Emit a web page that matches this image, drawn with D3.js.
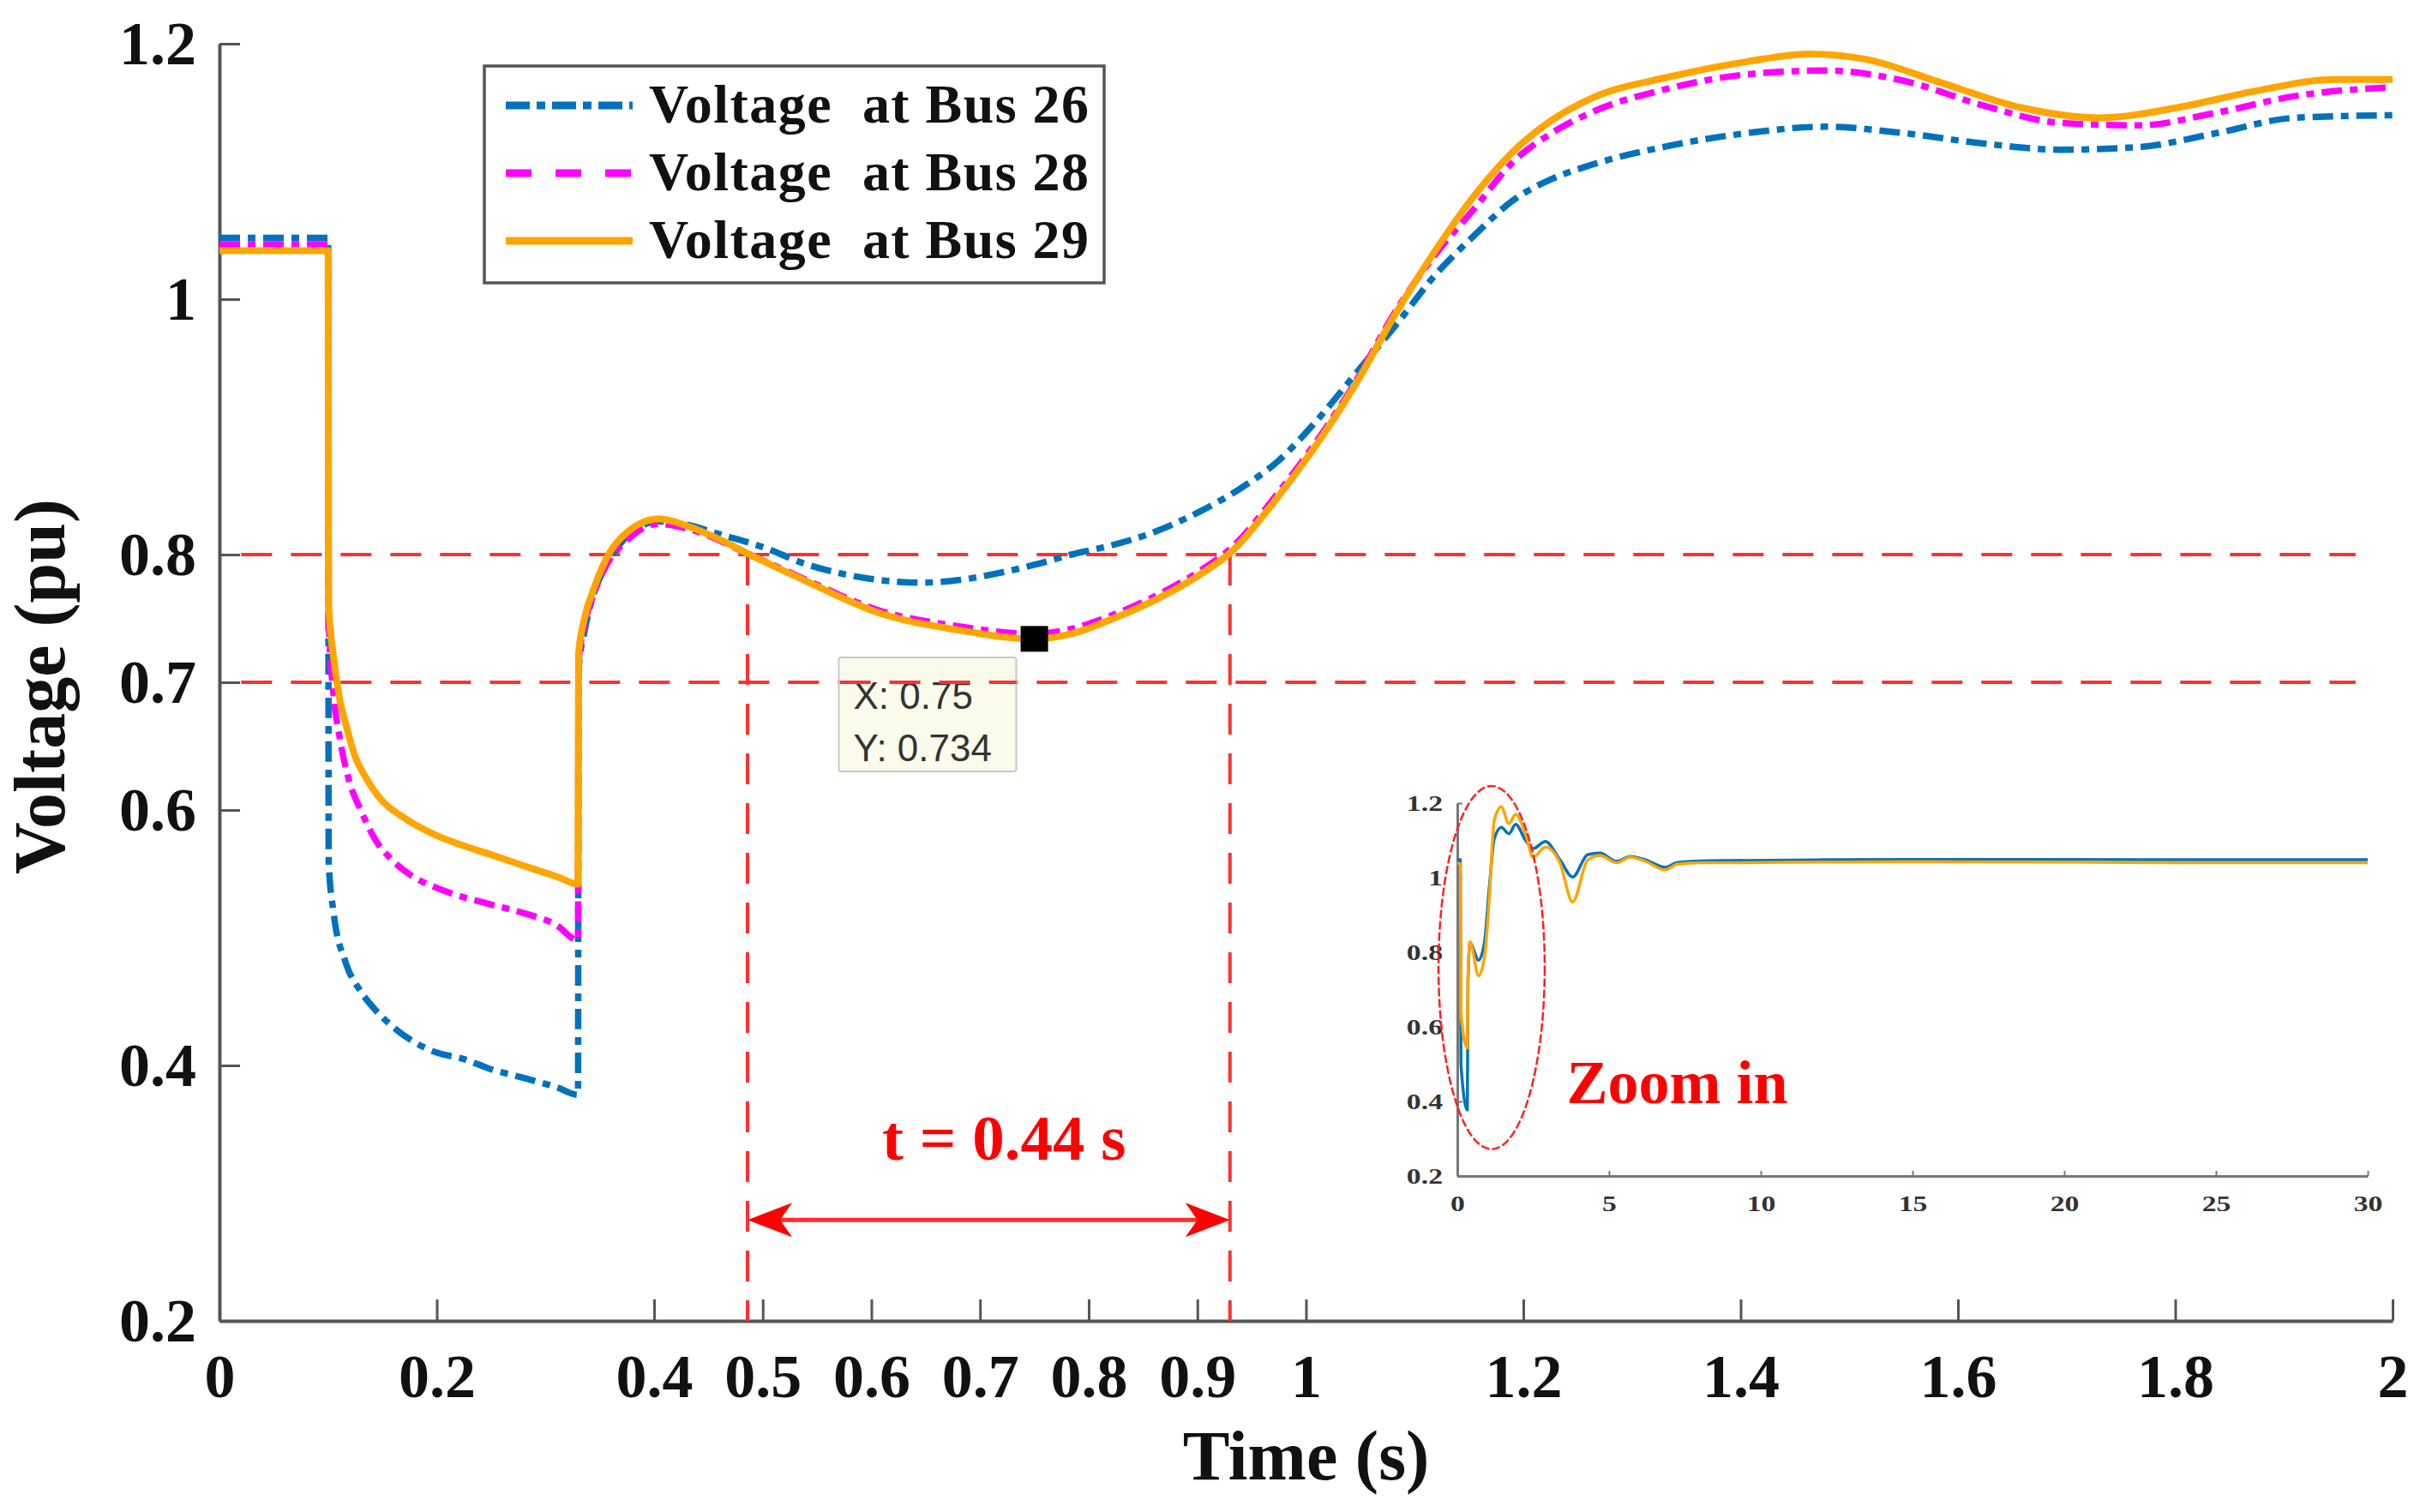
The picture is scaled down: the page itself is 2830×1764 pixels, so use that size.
<!DOCTYPE html>
<html>
<head>
<meta charset="utf-8">
<script src="https://cdn.jsdelivr.net/npm/d3@7"></script>
<style>
  body { margin: 0; background: #fff; }
  svg { display: block; }
  text { font-family: "Liberation Serif", "Times New Roman", serif; font-weight: bold; }
</style>
</head>
<body>
<script>
// main plot series (time in s, voltage in pu)
const bus26T = [0, 0.1, 0.1005, 0.105, 0.116, 0.13, 0.144, 0.16, 0.176, 0.2, 0.225, 0.25, 0.281, 0.31, 0.33, 0.3305, 0.336, 0.344, 0.355, 0.376, 0.404, 0.432, 0.46, 0.503, 0.538, 0.573, 0.62, 0.644, 0.68, 0.714, 0.75, 0.784, 0.82, 0.855, 0.903, 0.94, 0.974, 1.01, 1.046, 1.083, 1.119, 1.155, 1.19, 1.226, 1.262, 1.334, 1.406, 1.478, 1.55, 1.622, 1.694, 1.766, 1.838, 1.91, 2.0];
const bus26V = [1.048, 1.048, 0.56, 0.52, 0.481, 0.458, 0.443, 0.43, 0.42, 0.41, 0.405, 0.397, 0.39, 0.383, 0.377, 0.71, 0.74, 0.768, 0.79, 0.815, 0.826, 0.823, 0.816, 0.805, 0.793, 0.785, 0.779, 0.778, 0.78, 0.785, 0.792, 0.8, 0.807, 0.816, 0.834, 0.852, 0.873, 0.905, 0.942, 0.98, 1.019, 1.05, 1.077, 1.094, 1.105, 1.12, 1.13, 1.135, 1.13, 1.122, 1.117, 1.119, 1.13, 1.142, 1.144];

const bus28T = [0, 0.1, 0.1005, 0.105, 0.11, 0.12, 0.13, 0.144, 0.16, 0.176, 0.2, 0.216, 0.25, 0.281, 0.31, 0.33, 0.3305, 0.336, 0.344, 0.355, 0.376, 0.404, 0.432, 0.488, 0.538, 0.608, 0.679, 0.75, 0.78, 0.82, 0.86, 0.9, 0.931, 0.974, 1.046, 1.082, 1.119, 1.154, 1.19, 1.226, 1.262, 1.334, 1.406, 1.478, 1.55, 1.622, 1.694, 1.766, 1.838, 1.91, 2.0];
const bus28V = [1.043, 1.043, 0.75, 0.69, 0.66, 0.621, 0.6, 0.576, 0.56, 0.549, 0.539, 0.534, 0.526, 0.519, 0.51, 0.498, 0.715, 0.745, 0.768, 0.79, 0.812, 0.824, 0.82, 0.8, 0.781, 0.756, 0.744, 0.738, 0.741, 0.752, 0.767, 0.786, 0.805, 0.848, 0.936, 0.99, 1.035, 1.07, 1.107, 1.13, 1.146, 1.165, 1.176, 1.179, 1.171, 1.152, 1.138, 1.136, 1.146, 1.159, 1.166];

const bus29T = [0, 0.1, 0.1005, 0.105, 0.11, 0.117, 0.124, 0.135, 0.15, 0.168, 0.2, 0.225, 0.25, 0.281, 0.31, 0.33, 0.3305, 0.336, 0.344, 0.355, 0.376, 0.404, 0.432, 0.46, 0.488, 0.538, 0.608, 0.679, 0.75, 0.784, 0.82, 0.86, 0.9, 0.931, 0.974, 1.046, 1.082, 1.119, 1.154, 1.19, 1.226, 1.262, 1.334, 1.406, 1.463, 1.514, 1.586, 1.658, 1.73, 1.802, 1.874, 1.946, 2.0];
const bus29V = [1.038, 1.038, 0.76, 0.72, 0.69, 0.665, 0.644, 0.625, 0.607, 0.595, 0.58, 0.572, 0.565, 0.556, 0.548, 0.542, 0.722, 0.75, 0.772, 0.795, 0.818, 0.828, 0.822, 0.812, 0.8, 0.78, 0.754, 0.741, 0.734, 0.738, 0.749, 0.764, 0.783, 0.802, 0.845, 0.934, 0.988, 1.038, 1.08, 1.115, 1.14, 1.157, 1.174, 1.186, 1.192, 1.188, 1.169, 1.15, 1.142, 1.15, 1.163, 1.172, 1.172];

// inset: whole 30 s run
const insetT = [0, 0.1, 0.12, 0.33, 0.35, 0.42, 0.7, 0.9, 1.05, 1.22, 1.45, 1.7, 1.92, 2.25, 2.5, 2.9, 3.38, 3.8, 4.3, 4.7, 5.25, 5.7, 6.2, 6.85, 7.25, 8, 9, 12, 15, 20, 25, 30];
const insetV26 = [1.048, 1.048, 0.5, 0.377, 0.72, 0.825, 0.779, 0.83, 0.97, 1.105, 1.135, 1.118, 1.143, 1.1, 1.078, 1.097, 1.048, 1.002, 1.062, 1.066, 1.044, 1.057, 1.048, 1.028, 1.041, 1.045, 1.046, 1.048, 1.049, 1.049, 1.048, 1.048];
const insetV29 = [1.038, 1.038, 0.64, 0.543, 0.73, 0.828, 0.737, 0.79, 0.94, 1.155, 1.19, 1.145, 1.17, 1.117, 1.055, 1.082, 1.04, 0.935, 1.048, 1.06, 1.04, 1.055, 1.044, 1.021, 1.036, 1.04, 1.04, 1.042, 1.043, 1.042, 1.04, 1.04];

const seriesNames = ["Voltage  at Bus 26", "Voltage  at Bus 28", "Voltage  at Bus 29"];
const xTicks = [0, 0.2, 0.4, 0.5, 0.6, 0.7, 0.8, 0.9, 1, 1.2, 1.4, 1.6, 1.8, 2];
const yTicks = [0.2, 0.4, 0.6, 0.7, 0.8, 1, 1.2];
const insetXTicks = [0, 5, 10, 15, 20, 25, 30];
const insetYTicks = [0.2, 0.4, 0.6, 0.8, 1, 1.2];

// annotations
const limitLevels = [0.8, 0.7];
const limitSpan = [0.02, 1.966];
const crossTimes = [0.486, 0.93];
const arrowLevel = 0.279;
const tip = { x: 0.75, y: 0.734 };

const W = 2830, H = 1764;
const margin = { top: 51, right: 39, bottom: 223, left: 256 };
const width = W - margin.left - margin.right;
const height = H - margin.top - margin.bottom;

const colors = ["#0072BD", "#FF00FF", "#FFA500"];

const svg = d3.select("body").append("svg")
  .attr("width", W)
  .attr("height", H);

const x = d3.scaleLinear().domain([0, 2]).range([margin.left, margin.left + width]);
const y = d3.scaleLinear().domain([0.2, 1.2]).range([margin.top + height, margin.top]);

// axes
const gx = svg.append("g")
  .attr("transform", `translate(0,${y(0.2)})`)
  .call(d3.axisBottom(x).tickValues(xTicks).tickSizeInner(-25).tickSizeOuter(0)
    .tickPadding(38).tickFormat(d3.format("~g")));
const gy = svg.append("g")
  .attr("transform", `translate(${x(0)},0)`)
  .call(d3.axisLeft(y).tickValues(yTicks).tickSizeInner(-24).tickSizeOuter(0)
    .tickPadding(27).tickFormat(d3.format("~g")));

[gx, gy].forEach(g => {
  g.select(".domain").attr("stroke", "#555").attr("stroke-width", 4);
  g.selectAll(".tick line").attr("stroke", "#555").attr("stroke-width", 3);
  g.selectAll(".tick text")
    .attr("fill", "#111")
    .style("font-size", "72px")
    .style("font-family", "'Liberation Serif', 'Times New Roman', serif")
    .style("font-weight", "bold");
});

svg.append("text")
  .attr("x", x(1))
  .attr("y", 1726)
  .attr("text-anchor", "middle")
  .style("font-size", "82px")
  .attr("fill", "#111")
  .text("Time (s)");

svg.append("text")
  .attr("transform", `translate(75,${y(0.7) + 5}) rotate(-90)`)
  .attr("text-anchor", "middle")
  .style("font-size", "84px")
  .attr("fill", "#111")
  .text("Voltage (pu)");

// red limit lines
const red = "#ff3030";
const dash = "36,22";
limitLevels.forEach(v => {
  svg.append("line")
    .attr("x1", x(limitSpan[0])).attr("x2", x(limitSpan[1]))
    .attr("y1", y(v)).attr("y2", y(v))
    .attr("stroke", red).attr("stroke-width", 4).attr("stroke-dasharray", dash);
});
crossTimes.forEach(t => {
  svg.append("line")
    .attr("x1", x(t)).attr("x2", x(t))
    .attr("y1", y(limitLevels[0])).attr("y2", y(0.2))
    .attr("stroke", red).attr("stroke-width", 4).attr("stroke-dasharray", dash);
});

// curves
const line = d3.line()
  .x(d => x(d[0]))
  .y(d => y(d[1]))
  .curve(d3.curveMonotoneX);

const series = [
  { t: bus26T, v: bus26V, dash: "24,9,9,9", w: 7.5 },
  { t: bus28T, v: bus28V, dash: "24,9,9,9", w: 7.5 },
  { t: bus29T, v: bus29V, dash: null, w: 8 }
];

series.forEach((s, i) => {
  svg.append("path")
    .datum(s.t.map((t, k) => [t, s.v[k]]))
    .attr("d", line)
    .attr("fill", "none")
    .attr("stroke", colors[i])
    .attr("stroke-width", s.w)
    .attr("stroke-dasharray", s.dash)
    .attr("stroke-linejoin", "round");
});

// arrow t = 0.44 s
const ax1 = x(crossTimes[0]), ax2 = x(crossTimes[1]), ay = y(arrowLevel);
svg.append("line")
  .attr("x1", ax1 + 30).attr("x2", ax2 - 30)
  .attr("y1", ay).attr("y2", ay)
  .attr("stroke", "#ff2a2a").attr("stroke-width", 5);
function head(tx, dir) {
  const L = 52, N = 38, hw = 20;
  return `M${tx},${ay} L${tx + dir * L},${ay - hw} L${tx + dir * N},${ay} L${tx + dir * L},${ay + hw} Z`;
}
svg.append("path").attr("d", head(ax1, 1)).attr("fill", "#ff0000");
svg.append("path").attr("d", head(ax2, -1)).attr("fill", "#ff0000");

svg.append("text")
  .attr("x", x(0.722))
  .attr("y", y(0.326))
  .attr("text-anchor", "middle")
  .attr("fill", "#ff0000")
  .style("font-size", "75px")
  .attr("xml:space", "preserve")
  .text("t = 0.44 s");

// data tip
const tipBox = svg.append("g").attr("transform", `translate(${x(0.57)},${y(0.7195)})`);
tipBox.append("rect")
  .attr("width", 207).attr("height", 133).attr("rx", 3)
  .attr("fill", "#fbfbec").attr("stroke", "#c8c8c8").attr("stroke-width", 2);
// the 0.7 dashed line shows through the tip box in the picture
svg.append("line")
  .attr("x1", x(0.57)).attr("x2", x(0.57) + 207)
  .attr("y1", y(0.7)).attr("y2", y(0.7))
  .attr("stroke", red).attr("stroke-width", 4).attr("stroke-dasharray", dash)
  .attr("stroke-dashoffset", -((x(0.57) - x(limitSpan[0])) % 58));
tipBox.selectAll("text.tip")
  .data([`X: ${tip.x}`, `Y: ${tip.y}`])
  .enter().append("text")
  .attr("class", "tip")
  .attr("x", 17)
  .attr("y", (d, i) => 60 + i * 61)
  .attr("fill", "#333")
  .style("font-family", "'Liberation Sans', Arial, sans-serif")
  .style("font-weight", "normal")
  .style("font-size", "44px")
  .text(d => d);
svg.append("rect")
  .attr("x", x(tip.x) - 16).attr("y", y(tip.y) - 15)
  .attr("width", 32).attr("height", 30)
  .attr("fill", "#000");

// legend
const lg = svg.append("g").attr("transform", "translate(565,77)");
lg.append("rect")
  .attr("width", 723).attr("height", 253)
  .attr("fill", "#fff").attr("stroke", "#555").attr("stroke-width", 3.5);
const legendDash = ["28,8,10,8", "30,28", null];
seriesNames.forEach((name, i) => {
  const ly = 46 + i * 79;
  lg.append("line")
    .attr("x1", 25).attr("x2", 173)
    .attr("y1", ly).attr("y2", ly)
    .attr("stroke", colors[i]).attr("stroke-width", 9)
    .attr("stroke-dasharray", legendDash[i]);
  lg.append("text")
    .attr("x", 192).attr("y", ly + 20)
    .attr("fill", "#111")
    .style("font-size", "64px")
    .attr("xml:space", "preserve")
    .attr("textLength", 513)
    .attr("lengthAdjust", "spacing")
    .text(name);
});

// inset
const xi = d3.scaleLinear().domain([0, 30]).range([1700, 2762]);
const yi = d3.scaleLinear().domain([0.2, 1.2]).range([1372, 937]);

const gix = svg.append("g")
  .attr("transform", `translate(0,${yi(0.2)})`)
  .call(d3.axisBottom(xi).tickValues(insetXTicks).tickSizeInner(-6).tickSizeOuter(0).tickPadding(23));
const giy = svg.append("g")
  .attr("transform", `translate(${xi(0)},0)`)
  .call(d3.axisLeft(yi).tickValues(insetYTicks).tickSizeInner(-6).tickSizeOuter(0)
    .tickPadding(17).tickFormat(d3.format("~g")));
[gix, giy].forEach(g => {
  g.select(".domain").attr("stroke", "#777").attr("stroke-width", 3);
  g.selectAll(".tick line").attr("stroke", "#777").attr("stroke-width", 2);
  g.selectAll(".tick text")
    .attr("fill", "#333")
    .style("font-size", "25px")
    .style("font-family", "'Liberation Serif', 'Times New Roman', serif")
    .style("font-weight", "bold");
});
gix.selectAll(".tick text").attr("y", null).attr("transform", "translate(0,23) scale(1.35,1)");
giy.selectAll(".tick text").attr("x", null).attr("transform", "translate(-17,0) scale(1.35,1)");

const lineIn = d3.line()
  .x(d => xi(d[0]))
  .y(d => yi(d[1]))
  .curve(d3.curveMonotoneX);
[[insetV26, colors[0]], [insetV29, colors[2]]].forEach(([vals, c]) => {
  svg.append("path")
    .datum(insetT.map((t, k) => [t, vals[k]]))
    .attr("d", lineIn)
    .attr("fill", "none")
    .attr("stroke", c)
    .attr("stroke-width", 3.5)
    .attr("stroke-linejoin", "round");
});

svg.append("ellipse")
  .attr("cx", xi(1.13)).attr("cy", yi(0.759))
  .attr("rx", xi(1.75) - xi(0)).attr("ry", yi(0.2) - yi(0.687))
  .attr("fill", "none")
  .attr("stroke", "#ff2020").attr("stroke-width", 2.5)
  .attr("stroke-dasharray", "10,3");

svg.append("text")
  .attr("x", xi(3.6)).attr("y", yi(0.395))
  .attr("fill", "#ff0000")
  .style("font-size", "72px")
  .text("Zoom in");
</script>
</body>
</html>
